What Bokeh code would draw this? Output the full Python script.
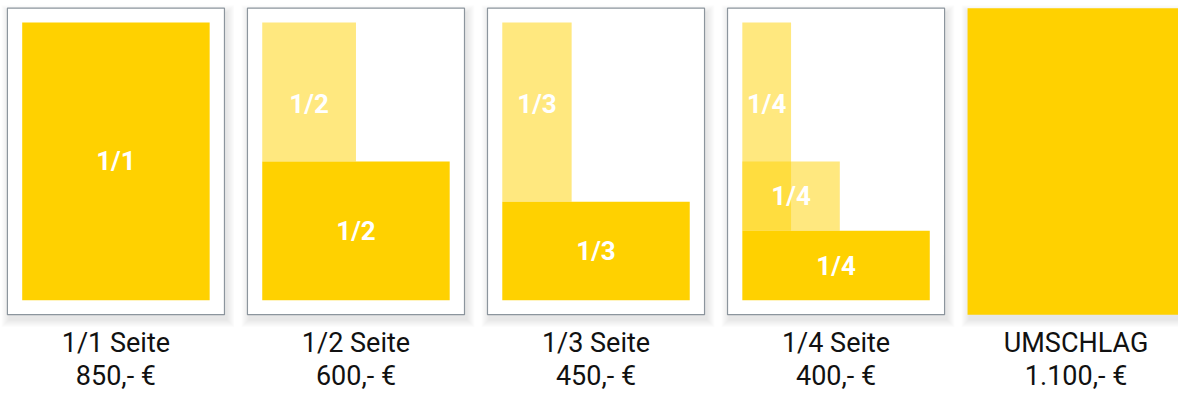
from bokeh.plotting import figure
from bokeh.models import Range1d, ColumnDataSource
from bokeh.embed import file_html
from bokeh.resources import INLINE
from bokeh.core.properties import value

# ---- data -------------------------------------------------------------
formats = ["1/1 Seite", "1/2 Seite", "1/3 Seite", "1/4 Seite", "UMSCHLAG"]
prices = ["850,- €", "600,- €", "450,- €", "400,- €", "1.100,- €"]
has_margin = [True, True, True, True, False]

# ad blocks, as shares of the printable area of each page
block_page = [0, 1, 1, 2, 2, 3, 3, 3]
block_left = [0, 0, 0, 0, 0, 0, 0, 0]
block_right = [1, 0.5, 1, 0.37, 1, 0.26, 0.52, 1]
block_top = [0, 0, 0.5, 0, 0.645, 0, 0.5, 0.75]
block_bottom = [1, 0.5, 1, 0.645, 1, 0.75, 0.75, 1]
block_tone = ["full", "light", "full", "light", "full", "light", "light", "full"]
block_label = ["1/1", "1/2", "1/2", "1/3", "1/3", "1/4", "1/4", "1/4"]
block_label_y = [0.5, 0.293, 0.75, 0.293, 0.8225, 0.293, 0.625, 0.875]

# ---- layout (reference pixels, mapped onto the figure) ----------------
W, H = 1178, 391
REF_W, REF_H = 1194, 407
PAGE_X0, PAGE_STEP = 7, 243.3
PAGE_TOP, PAGE_W, PAGE_H = 8, 220, 319
MARGIN = 15
YELLOW = "#FFD100"
BORDER = "#8C959D"

p = figure(width=W, height=H, output_backend="svg", toolbar_location=None,
           x_range=Range1d(0, REF_W), y_range=Range1d(REF_H, 0),
           min_border=0, outline_line_color=None, background_fill_color="white")
p.axis.visible = False
p.grid.visible = False

n = len(formats)
lefts = [PAGE_X0 + i * PAGE_STEP for i in range(n)]

# soft drop shadow
for k in range(1, 9):
    p.quad(left=[l - k + 2 for l in lefts], right=[l + PAGE_W + k + 2 for l in lefts],
           top=[PAGE_TOP - k + 5] * n, bottom=[PAGE_TOP + PAGE_H + k + 5] * n,
           fill_color="black", fill_alpha=0.011, line_color=None)

# pages
page_src = ColumnDataSource(dict(
    left=lefts, right=[l + PAGE_W for l in lefts],
    top=[PAGE_TOP] * n, bottom=[PAGE_TOP + PAGE_H] * n,
    fill=["white" if m else YELLOW for m in has_margin],
    line=[BORDER if m else None for m in has_margin],
))
p.quad(left="left", right="right", top="top", bottom="bottom", source=page_src,
       fill_color="fill", line_color="line", line_width=1.2)

# ad blocks
iw, ih = PAGE_W - 2 * MARGIN, PAGE_H - 2 * MARGIN
bl, br, bt, bb, ba, lx, ly = [], [], [], [], [], [], []
for pg, l, r, t, b, tone, yl in zip(block_page, block_left, block_right, block_top,
                                    block_bottom, block_tone, block_label_y):
    x0 = lefts[pg] + MARGIN
    y0 = PAGE_TOP + MARGIN
    bl.append(x0 + l * iw); br.append(x0 + r * iw)
    bt.append(y0 + t * ih); bb.append(y0 + b * ih)
    ba.append(1.0 if tone == "full" else 0.5)
    lx.append(x0 + (l + r) / 2 * iw)
    ly.append(y0 + yl * ih)
p.quad(left=bl, right=br, top=bt, bottom=bb, fill_color=YELLOW, fill_alpha=ba,
       line_color=None)
p.text(x=lx, y=ly, text=block_label, text_color="white", text_font=value("Roboto"),
       text_font_size="26px", text_font_style="bold", text_align="center",
       text_baseline="middle")

# captions
centers = [l + PAGE_W / 2 for l in lefts]
p.text(x=centers, y=[356] * n, text=formats, text_color="#111111",
       text_font=value("Roboto"), text_font_size="27px", text_align="center",
       text_baseline="middle")
p.text(x=centers, y=[391] * n, text=prices, text_color="#111111",
       text_font=value("Roboto"), text_font_size="27px", text_align="center",
       text_baseline="middle")

open("out.html", "w").write(file_html(p, INLINE))
